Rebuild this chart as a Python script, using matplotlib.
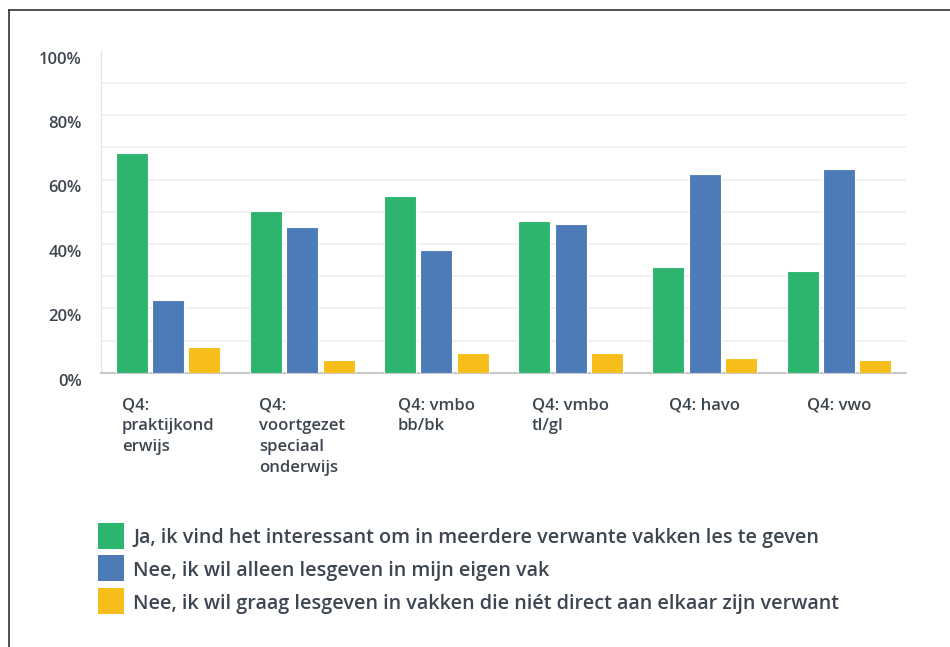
import numpy as np
import matplotlib
matplotlib.use("Agg")
import matplotlib.pyplot as plt
from matplotlib.lines import Line2D
from matplotlib.patches import Rectangle
from matplotlib.transforms import ScaledTranslation

plt.rcParams['font.family'] = ['Open Sans', 'DejaVu Sans']

# data
categories = ["Q4:\npraktijkond\nerwijs", "Q4:\nvoortgezet\nspeciaal\nonderwijs",
              "Q4: vmbo\nbb/bk", "Q4: vmbo\ntl/gl", "Q4: havo", "Q4: vwo"]
ja_verwant = [68.2, 50.2, 54.9, 47.2, 32.7, 31.7]
nee_eigen_vak = [22.6, 45.2, 38.2, 46.3, 61.8, 63.3]
nee_niet_verwant = [8.0, 4.0, 6.0, 6.0, 4.5, 4.0]
series_labels = ["Ja, ik vind het interessant om in meerdere verwante vakken les te geven",
                 "Nee, ik wil alleen lesgeven in mijn eigen vak",
                 "Nee, ik wil graag lesgeven in vakken die niét direct aan elkaar zijn verwant"]
yticks = [0, 20, 40, 60, 80, 100]

colors = ['#2db46e', '#4d7bb8', '#f7bd18']
text_col = '#3d4650'

fig = plt.figure(figsize=(9.5, 6.47), dpi=100)
ax = fig.add_axes([101/950, 1 - 372.7/647, 805/950, (372.7 - 50.7)/647])

x = np.arange(len(categories))
w = 0.239
step = 0.271
for k, vals in enumerate([ja_verwant, nee_eigen_vak, nee_niet_verwant]):
    ax.bar(x + (k - 1) * step, vals, width=w, color=colors[k],
           edgecolor='white', linewidth=0.8, zorder=3)

ax.set_xlim(-0.5, len(categories) - 0.5)
ax.set_ylim(0, 100)

for g in range(10, 100, 10):
    ax.axhline(g, color='#eeeeee', linewidth=1.2, zorder=1)

for s in ['top', 'right']:
    ax.spines[s].set_visible(False)
ax.spines['left'].set_color('#e2e2e2')
ax.spines['bottom'].set_color('#c8c8c8')
ax.spines['bottom'].set_linewidth(1.5)

ax.set_yticks(yticks)
ax.set_yticklabels([f"{t}%" for t in yticks], fontsize=12, fontweight='semibold', color=text_col)
ax.tick_params(axis='y', length=0, pad=14)
for lab in ax.get_yticklabels():
    lab.set_transform(lab.get_transform() + ScaledTranslation(0, -7/100, fig.dpi_scale_trans))

ax.set_xticks(x)
ax.set_xticklabels(categories, fontsize=12, fontweight='semibold', color=text_col,
                   multialignment='left', linespacing=1.39)
ax.tick_params(axis='x', length=0, pad=18)

# legend, drawn manually as squares and text
for k, lab in enumerate(series_labels):
    yc = 1 - (535.5 + k * 32.5) / 647
    fig.add_artist(Rectangle((98/950, yc - 13/647), 26/950, 26/647,
                             transform=fig.transFigure, facecolor=colors[k],
                             edgecolor='none'))
    fig.text(133/950, yc - 3/647, lab, fontsize=14.2, fontweight='semibold', color=text_col,
             va='center', ha='left')

# frame around the screenshot
fig.add_artist(Line2D([9/950, 9/950], [0, 1 - 10/647], color='#333333', linewidth=1.2))
fig.add_artist(Line2D([9/950, 1], [1 - 10/647, 1 - 10/647], color='#333333', linewidth=1.2))

fig.savefig('out.png', dpi=100)
